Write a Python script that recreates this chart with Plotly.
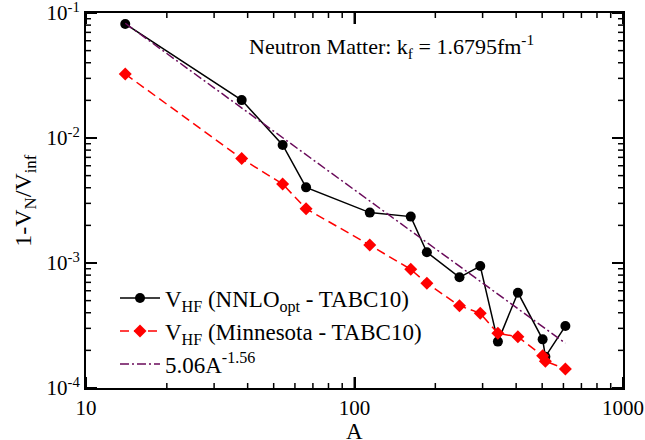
import plotly.graph_objects as go

A = [14, 38, 54, 66, 114, 162, 186, 246, 294, 342, 406, 502, 514, 610]
v_nnlo = [0.0817, 0.0201, 0.00879, 0.00403, 0.00253, 0.00235, 0.00122, 0.000768,
          0.000946, 0.000235, 0.000579, 0.000245, 0.000178, 0.000313]
v_minn = [0.0325, 0.00684, 0.00428, 0.00272, 0.00139, 0.00089, 0.000688, 0.000455,
          0.000396, 0.000274, 0.000257, 0.000181, 0.000164, 0.000142]
fit_A = [14, 610]
fit_v = [0.0828, 0.000228]

x_edges = [10, 1000]
y_edges = [1e-4, 1e-1]
xtick_vals = [10, 100, 1000]
xtick_text = ["10", "100", "1000"]
ytick_vals = [1e-4, 1e-3, 1e-2, 1e-1]
ytick_text = ["10<sup>-4</sup>", "10<sup>-3</sup>", "10<sup>-2</sup>", "10<sup>-1</sup>"]
xminor_vals = [20, 30, 40, 50, 60, 70, 80, 90, 200, 300, 400, 500, 600, 700, 800, 900]
yminor_vals = [2e-4, 3e-4, 4e-4, 5e-4, 6e-4, 7e-4, 8e-4, 9e-4,
               2e-3, 3e-3, 4e-3, 5e-3, 6e-3, 7e-3, 8e-3, 9e-3,
               2e-2, 3e-2, 4e-2, 5e-2, 6e-2, 7e-2, 8e-2, 9e-2]

font = "Liberation Serif, Times New Roman, serif"

W, H = 645, 440
ML, MR, MT, MB = 86, 22, 13, 52
px_per_dec_x = (W - ML - MR) / 2.0
px_per_dec_y = (H - MT - MB) / 3.0

fig = go.Figure()
fig.add_trace(go.Scatter(
    x=A, y=v_nnlo, mode="lines+markers",
    name="V<sub>HF</sub> (NNLO<sub>opt</sub> - TABC10)",
    line=dict(color="black", width=1.5),
    marker=dict(symbol="circle", size=10, color="black")))
fig.add_trace(go.Scatter(
    x=A, y=v_minn, mode="lines+markers",
    name="V<sub>HF</sub> (Minnesota - TABC10)",
    line=dict(color="#ff0000", width=1.5, dash="9px,5px"),
    marker=dict(symbol="diamond", size=10, color="#ff0000")))
fig.add_trace(go.Scatter(
    x=fit_A, y=fit_v, mode="lines",
    name="5.06A<sup>-1.56</sup>",
    line=dict(color="#6a0a5a", width=1.5, dash="9px,3px,2px,3px")))


# inside tick marks on all four sides of the frame, as short line segments
def tick_segments(xvals, yvals, length):
    fx = 10 ** (length / px_per_dec_x)
    fy = 10 ** (length / px_per_dec_y)
    xs, ys = [], []
    for v in xvals:
        xs += [v, v, None, v, v, None]
        ys += [y_edges[0], y_edges[0] * fy, None, y_edges[1], y_edges[1] / fy, None]
    for v in yvals:
        xs += [x_edges[0], x_edges[0] * fx, None, x_edges[1], x_edges[1] / fx, None]
        ys += [v, v, None, v, v, None]
    return xs, ys


for xv, yv, ln, wd in ((xtick_vals, ytick_vals, 11, 2), (xminor_vals, yminor_vals, 5, 1.5)):
    sx, sy = tick_segments(xv, yv, ln)
    fig.add_trace(go.Scatter(x=sx, y=sy, mode="lines", showlegend=False, hoverinfo="skip",
                             connectgaps=False, line=dict(color="black", width=wd)))

axis_common = dict(
    showgrid=False, zeroline=False, showline=True, linecolor="black", linewidth=2,
    mirror="allticks", ticks="inside", ticklen=11, tickwidth=2, tickcolor="black",
    tickfont=dict(family=font, size=21, color="black"), automargin=False,
    ticklabeloverflow="allow",
)

fig.update_xaxes(
    type="log", range=[1, 3], tickmode="array", tickvals=xtick_vals, ticktext=xtick_text,
    **axis_common)
fig.update_yaxes(
    type="log", range=[-4, -1], tickmode="array", tickvals=ytick_vals, ticktext=ytick_text,
    **axis_common)

fig.add_annotation(
    x=0.5, y=-0.117, xref="paper", yref="paper", xanchor="center", yanchor="middle",
    text="A", showarrow=False, font=dict(family=font, size=23, color="black"))
fig.add_annotation(
    x=-0.115, y=0.5, xref="paper", yref="paper", xanchor="center", yanchor="middle",
    text="1-V<sub>N</sub>/V<sub>inf</sub>", textangle=-90, showarrow=False,
    font=dict(family=font, size=24, color="black"))
fig.add_annotation(
    x=0.568, y=0.91, xref="paper", yref="paper", xanchor="center", yanchor="middle",
    text="Neutron Matter: k<sub>f</sub> = 1.6795fm<sup>-1</sup>", showarrow=False,
    font=dict(family=font, size=22, color="black"))

fig.update_layout(
    width=W, height=H,
    margin=dict(l=ML, r=MR, t=MT, b=MB),
    paper_bgcolor="white", plot_bgcolor="white",
    font=dict(family=font, color="black"),
    legend=dict(x=0.054, y=0.297, xanchor="left", yanchor="top",
                bgcolor="rgba(0,0,0,0)", font=dict(family=font, size=23, color="black"),
                tracegroupgap=0, itemwidth=40),
    showlegend=True,
)

fig.write_html("out.html", config={"displayModeBar": False},
               post_script="document.body.style.margin='0';")
